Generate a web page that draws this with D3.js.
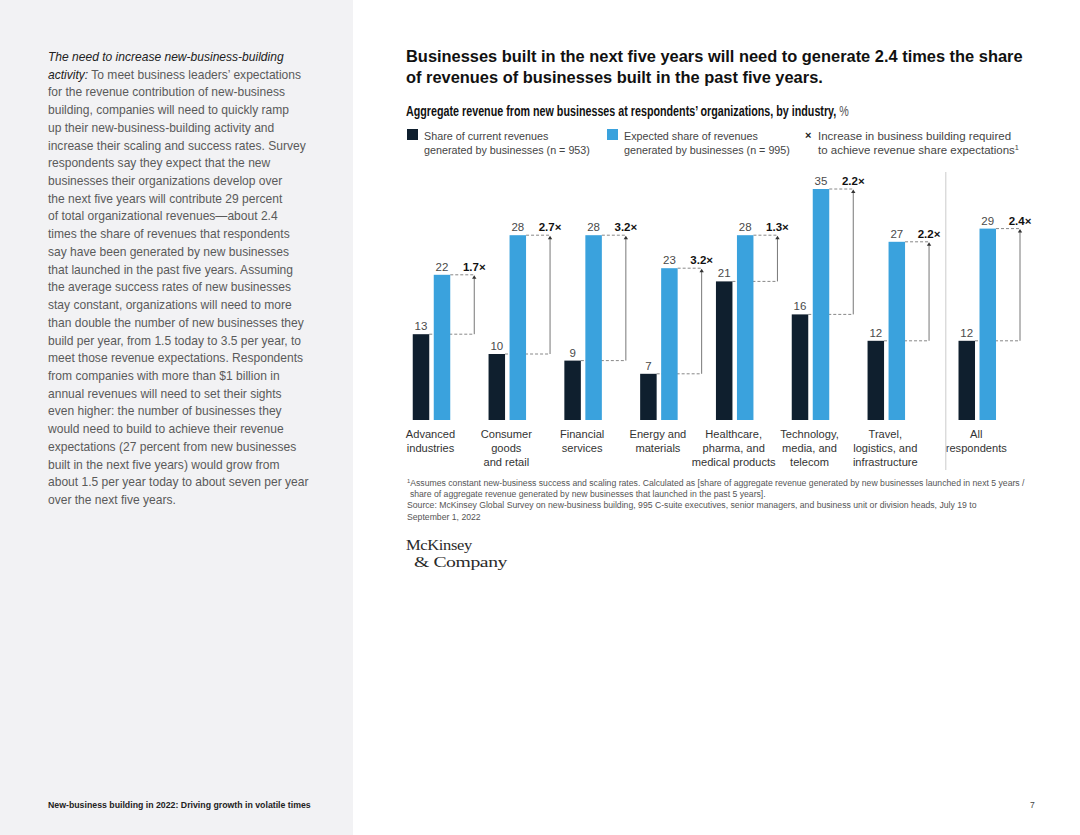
<!DOCTYPE html>
<html>
<head>
<meta charset="utf-8">
<title>New-business building</title>
<script src="https://cdn.jsdelivr.net/npm/d3@7"></script>
<style>
  html, body { margin: 0; padding: 0; background: #fff; }
  svg { display: block; font-family: "Liberation Sans", Arial, sans-serif; }
</style>
</head>
<body>
<div id="chart"></div>
<script>
// data
var categories = [
  ["Advanced", "industries"],
  ["Consumer", "goods", "and retail"],
  ["Financial", "services"],
  ["Energy and", "materials"],
  ["Healthcare,", "pharma, and", "medical products"],
  ["Technology,", "media, and", "telecom"],
  ["Travel,", "logistics, and", "infrastructure"],
  ["All", "respondents"]
];
var currentShare = [13, 10, 9, 7, 21, 16, 12, 12];
var expectedShare = [22, 28, 28, 23, 28, 35, 27, 29];
var multipliers = ["1.7×", "2.7×", "3.2×", "3.2×", "1.3×", "2.2×", "2.2×", "2.4×"];

var titleLines = [
  "Businesses built in the next five years will need to generate 2.4 times the share",
  "of revenues of businesses built in the past five years."
];
var legendItems = [
  ["Share of current revenues", "generated by businesses (n = 953)"],
  ["Expected share of revenues", "generated by businesses (n = 995)"],
  ["Increase in business building required", "to achieve revenue share expectations"]
];
var footnotes = [
  "Assumes constant new-business success and scaling rates. Calculated as [share of aggregate revenue generated by new businesses launched in next 5 years /",
  "share of aggregate revenue generated by new businesses that launched in the past 5 years].",
  "Source: McKinsey Global Survey on new-business building, 995 C-suite executives, senior managers, and business unit or division heads, July 19 to",
  "September 1, 2022"
];
var bodyLines = [
  "The need to increase new-business-building",
  "activity:| To meet business leaders’ expectations",
  "for the revenue contribution of new-business",
  "building, companies will need to quickly ramp",
  "up their new-business-building activity and",
  "increase their scaling and success rates. Survey",
  "respondents say they expect that the new",
  "businesses their organizations develop over",
  "the next five years will contribute 29 percent",
  "of total organizational revenues—about 2.4",
  "times the share of revenues that respondents",
  "say have been generated by new businesses",
  "that launched in the past five years. Assuming",
  "the average success rates of new businesses",
  "stay constant, organizations will need to more",
  "than double the number of new businesses they",
  "build per year, from 1.5 today to 3.5 per year, to",
  "meet those revenue expectations. Respondents",
  "from companies with more than $1 billion in",
  "annual revenues will need to set their sights",
  "even higher: the number of businesses they",
  "would need to build to achieve their revenue",
  "expectations (27 percent from new businesses",
  "built in the next five years) would grow from",
  "about 1.5 per year today to about seven per year",
  "over the next five years."
];

var W = 1080, H = 835;
var dark = "#0f1f2e", blue = "#3aa2dd";

var svg = d3.select("#chart").append("svg")
  .attr("width", W).attr("height", H);

// horizontal squeeze so a reference line hits a given width
function squeeze(node, target) {
  return target / node.getComputedTextLength();
}

// left panel
svg.append("rect").attr("x", 0).attr("y", 0).attr("width", 353).attr("height", H).attr("fill", "#f2f2f4");

var body = svg.append("g").attr("class", "body");
var bodyText = body.selectAll("text").data(bodyLines).enter().append("text")
  .attr("x", 0).attr("y", function(d, i) { return i * 17.72; })
  .attr("font-size", 12.5).attr("fill", "#5a5a5a");
bodyText.each(function(d, i) {
  var t = d3.select(this);
  if (i === 0) {
    t.append("tspan").attr("font-style", "italic").attr("fill", "#222").text(d);
  } else if (d.indexOf("|") >= 0) {
    var parts = d.split("|");
    t.append("tspan").attr("font-style", "italic").attr("fill", "#222").text(parts[0]);
    t.append("tspan").text(parts[1]);
  } else {
    t.text(d);
  }
});
var kb = squeeze(bodyText.nodes()[5], 258);
body.attr("transform", "translate(48,61) scale(" + kb + ",1)");

var foot = svg.append("text").attr("x", 0).attr("y", 0)
  .attr("font-size", 8.5).attr("font-weight", 700).attr("fill", "#222")
  .text("New-business building in 2022: Driving growth in volatile times");
var kf = squeeze(foot.node(), 263);
foot.attr("transform", "translate(48,808) scale(" + kf + ",1)");
svg.append("text").attr("x", 1030).attr("y", 808).attr("font-size", 8.5)
  .attr("fill", "#444").text("7");

// title
var title = svg.append("g");
var tl = title.selectAll("text").data(titleLines).enter().append("text")
  .attr("x", 0).attr("y", function(d, i) { return i * 21; })
  .attr("font-size", 17).attr("font-weight", 700).attr("fill", "#111")
  .text(function(d) { return d; });
var kt = squeeze(tl.nodes()[0], 617);
title.attr("transform", "translate(406,62) scale(" + kt + ",1)");

var sub = svg.append("text").attr("x", 0).attr("y", 0)
  .attr("font-size", 14).attr("font-weight", 700).attr("fill", "#111");
sub.append("tspan").text("Aggregate revenue from new businesses at respondents’ organizations, by industry, ");
sub.append("tspan").attr("font-weight", 400).attr("fill", "#555").text("%");
var ks = squeeze(sub.node(), 443);
sub.attr("transform", "translate(406,116) scale(" + ks + ",1)");

// legend
var legendX = [407, 607, 805];
var legend = svg.selectAll("g.legend").data(legendItems).enter().append("g")
  .attr("class", "legend")
  .attr("transform", function(d, i) { return "translate(" + legendX[i] + ",0)"; });
legend.each(function(d, i) {
  var g = d3.select(this);
  if (i < 2) {
    g.append("rect").attr("x", 0).attr("y", 129).attr("width", 11).attr("height", 11)
      .attr("fill", i === 0 ? dark : blue);
  } else {
    g.append("text").attr("x", 0).attr("y", 139).attr("font-size", 11)
      .attr("font-weight", 700).attr("fill", "#222").text("×");
  }
  var tg = g.append("g");
  var lines = tg.selectAll("text").data(d).enter().append("text")
    .attr("x", 0).attr("y", function(s, j) { return j * 14; })
    .attr("font-size", 11).attr("fill", "#444")
    .text(function(s) { return s; });
  if (i === 2) {
    d3.select(lines.nodes()[1]).append("tspan").attr("font-size", 7).attr("dy", -4).text("1");
  }
  var kl = squeeze(lines.nodes()[1], i === 2 ? 201 : 166);
  tg.attr("transform", "translate(" + (i === 2 ? 13 : 17) + ",140) scale(" + kl + ",1)");
});

// scales
var slot = categories.map(function(d, i) { return i < 7 ? i : i + 0.2; });
var x = d3.scaleLinear().domain([0, 6]).range([431.5, 886.3]);
var y = d3.scaleLinear().domain([0, 35]).range([420, 189]);
var barW = 16.5, gap = 4.5;

var groups = svg.selectAll("g.grp").data(categories).enter().append("g")
  .attr("class", "grp")
  .attr("transform", function(d, i) { return "translate(" + x(slot[i]) + ",0)"; });

// dashed guides and arrows, drawn behind the bars
groups.each(function(d, i) {
  var g = d3.select(this);
  var ax = barW + gap / 2 + 24;
  var y0 = y(currentShare[i]), y1 = y(expectedShare[i]);
  g.append("line").attr("x1", -gap / 2).attr("x2", ax)
    .attr("y1", y0).attr("y2", y0)
    .attr("stroke", "#888").attr("stroke-width", 1).attr("stroke-dasharray", "3,2");
  g.append("line").attr("x1", gap / 2 + barW).attr("x2", ax)
    .attr("y1", y1).attr("y2", y1)
    .attr("stroke", "#888").attr("stroke-width", 1).attr("stroke-dasharray", "3,2");
  g.append("line").attr("x1", ax).attr("x2", ax)
    .attr("y1", y0).attr("y2", y1 + 3)
    .attr("stroke", "#777").attr("stroke-width", 1);
  g.append("path")
    .attr("d", "M" + (ax - 2.2) + "," + (y1 + 4) + "L" + ax + "," + (y1 + 0.5) + "L" + (ax + 2.2) + "," + (y1 + 4) + "Z")
    .attr("fill", "#333");
  g.append("text").attr("x", ax).attr("y", y1 - 4)
    .attr("text-anchor", "middle").attr("font-size", 11.5).attr("font-weight", 700)
    .attr("fill", "#111").text(multipliers[i]);
});

groups.append("rect")
  .attr("x", -gap / 2 - barW).attr("width", barW)
  .attr("y", function(d, i) { return y(currentShare[i]); })
  .attr("height", function(d, i) { return y(0) - y(currentShare[i]); })
  .attr("fill", dark);
groups.append("rect")
  .attr("x", gap / 2).attr("width", barW)
  .attr("y", function(d, i) { return y(expectedShare[i]); })
  .attr("height", function(d, i) { return y(0) - y(expectedShare[i]); })
  .attr("fill", blue);

groups.append("text")
  .attr("x", -gap / 2 - barW / 2)
  .attr("y", function(d, i) { return y(currentShare[i]) - 4; })
  .attr("text-anchor", "middle").attr("font-size", 11.5).attr("fill", "#4a4a4a")
  .text(function(d, i) { return currentShare[i]; });
groups.append("text")
  .attr("x", gap / 2 + barW / 2)
  .attr("y", function(d, i) { return y(expectedShare[i]) - 4; })
  .attr("text-anchor", "middle").attr("font-size", 11.5).attr("fill", "#4a4a4a")
  .text(function(d, i) { return expectedShare[i]; });

// category labels
groups.each(function(d) {
  var g = d3.select(this).append("g").attr("class", "lab");
  g.selectAll("text").data(d).enter().append("text")
    .attr("x", 0).attr("y", function(s, j) { return j * 14; })
    .attr("text-anchor", "middle").attr("font-size", 11.5).attr("fill", "#333")
    .text(function(s) { return s; });
});
var refLab = groups.selectAll("text").filter(function(s) { return s === "medical products"; });
var kc = squeeze(refLab.node(), 84);
groups.selectAll("g.lab").attr("transform", "translate(-1,438) scale(" + kc + ",1)");

// separator before "All respondents"
var sepX = (x(6) + x(slot[7])) / 2 + 14;
svg.append("line").attr("x1", sepX).attr("x2", sepX).attr("y1", 172).attr("y2", 470)
  .attr("stroke", "#d4d4d4").attr("stroke-width", 1.2);

// footnotes
var fn = svg.append("g");
var fl = fn.selectAll("text").data(footnotes).enter().append("text")
  .attr("x", function(d, i) { return i === 1 ? 3 : 0; })
  .attr("y", function(d, i) { return i * 11.2; })
  .attr("font-size", 9).attr("fill", "#555");
fl.each(function(d, i) {
  var t = d3.select(this);
  if (i === 0) {
    t.append("tspan").attr("font-size", 6).attr("dy", -3).text("1");
    t.append("tspan").attr("dy", 3).text(d);
  } else {
    t.text(d);
  }
});
var kn = squeeze(fl.nodes()[0], 618);
fn.attr("transform", "translate(407,486) scale(" + kn + ",1)");

// logo
var logo = svg.append("g").attr("font-family", "'Liberation Serif', 'DejaVu Serif', serif")
  .attr("fill", "#2a2a2a");
var l1 = logo.append("text").attr("x", 0).attr("y", 0).attr("font-size", 14).attr("letter-spacing", -0.3).text("McKinsey");
var l2 = logo.append("text").attr("x", 0).attr("y", 0).attr("font-size", 14).attr("letter-spacing", -0.3).text("& Company");
l1.attr("transform", "translate(406,550) scale(" + squeeze(l1.node(), 66) + ",1)");
l2.attr("transform", "translate(414,567) scale(" + squeeze(l2.node(), 93) + ",1)");
</script>
</body>
</html>
